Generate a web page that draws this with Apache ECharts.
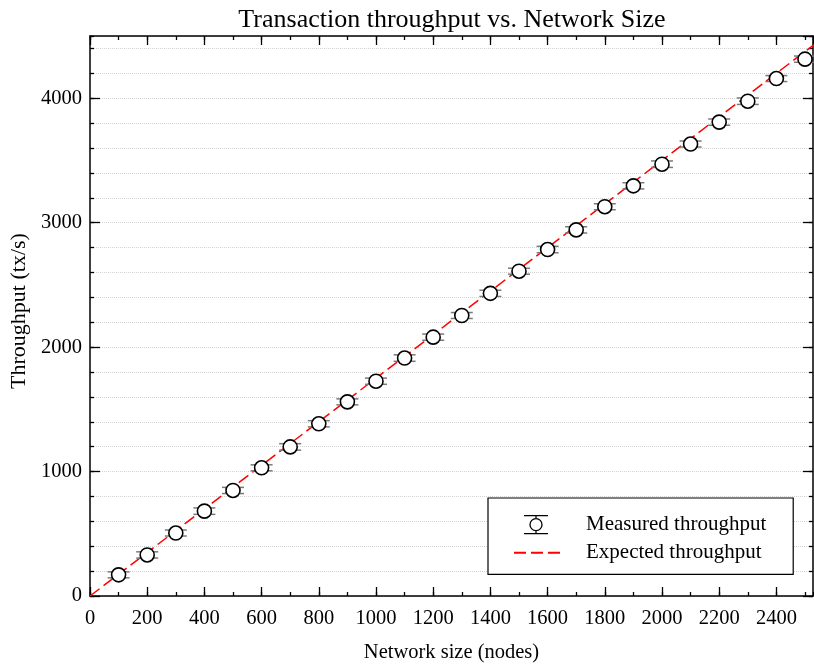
<!DOCTYPE html>
<html>
<head>
<meta charset="utf-8">
<title>Transaction throughput vs. Network Size</title>
<script src="https://cdn.jsdelivr.net/npm/echarts@6/dist/echarts.min.js"></script>
<style>
  html, body { margin: 0; padding: 0; background: #ffffff; }
  #chart { width: 814px; height: 668px; }
</style>
</head>
<body>
<div id="chart"></div>
<script>
// Network sizes (nodes) at which throughput was measured
const networkSizes = [100, 200, 300, 400, 500, 600, 700, 800, 900, 1000, 1100, 1200, 1300,
                      1400, 1500, 1600, 1700, 1800, 1900, 2000, 2100, 2200, 2300, 2400, 2500];
// Measured throughput (tx/s)
const measuredThroughput = [170, 330, 506, 682, 848, 1030, 1198, 1384, 1560, 1726, 1912, 2080, 2254,
                            2432, 2610, 2784, 2942, 3128, 3296, 3470, 3632, 3808, 3976, 4158, 4314];
// Half-width of the error bar around each measurement (tx/s)
const throughputError = [24, 25, 24, 26, 25, 24, 26, 25, 24, 25, 26, 25, 24,
                         25, 24, 26, 25, 24, 25, 26, 24, 25, 26, 24, 25];
// Expected (linear) throughput reference line
const expectedSizes = [0, 2600];
const expectedThroughput = [0, 4550];
// Tick labels
const xTickLabels = [0, 200, 400, 600, 800, 1000, 1200, 1400, 1600, 1800, 2000, 2200, 2400];
const yTickLabels = [0, 1000, 2000, 3000, 4000];

const FONT = "'Liberation Serif', 'Times New Roman', serif";
const X_MAX = 2528;
const Y_MAX = 4500;

const chart = echarts.init(document.getElementById('chart'), null, { renderer: 'canvas' });

function xAxisDef(position, interval, tickLen, withLabels, showLine) {
  return {
    type: 'value', position: position, min: 0, max: X_MAX, interval: interval,
    axisLine: { show: showLine, onZero: false, lineStyle: { color: '#000', width: 1.5 } },
    axisTick: { show: true, inside: true, length: tickLen, lineStyle: { color: '#000', width: 1.3 } },
    axisLabel: {
      show: withLabels, showMaxLabel: false, margin: 12,
      fontFamily: FONT, fontSize: 20.5, color: '#000',
      formatter: v => (xTickLabels.indexOf(v) >= 0 ? String(v) : '')
    },
    splitLine: { show: false },
    name: withLabels ? 'Network size (nodes)' : '',
    nameLocation: 'middle', nameGap: 46,
    nameTextStyle: { fontFamily: FONT, fontSize: 20.5, color: '#000' }
  };
}

function yAxisDef(position, interval, tickLen, withLabels, showLine, split) {
  return {
    type: 'value', position: position, min: 0, max: Y_MAX, interval: interval,
    axisLine: { show: showLine, onZero: false, lineStyle: { color: '#000', width: 1.5 } },
    axisTick: { show: true, inside: true, length: tickLen, lineStyle: { color: '#000', width: 1.3 } },
    axisLabel: {
      show: withLabels, showMaxLabel: false, margin: 8,
      fontFamily: FONT, fontSize: 20.5, color: '#000',
      formatter: v => (yTickLabels.indexOf(v) >= 0 ? String(v) : '')
    },
    splitLine: split,
    name: withLabels ? 'Throughput (tx/s)' : '',
    nameLocation: 'middle', nameGap: 53,
    nameTextStyle: { fontFamily: FONT, fontSize: 22, color: '#000', padding: [0, 0, 0, 10] }
  };
}

const option = {
  backgroundColor: '#ffffff',
  animation: false,
  title: {
    text: 'Transaction throughput vs. Network Size',
    left: 447, top: 2, textAlign: 'center',
    textStyle: { fontFamily: FONT, fontSize: 26, fontWeight: 'normal', color: '#000' }
  },
  grid: { left: 90, right: 1, top: 36, bottom: 69, containLabel: false },
  xAxis: [
    xAxisDef('bottom', 200, 9, true, true),
    xAxisDef('bottom', 100, 4, false, false),
    xAxisDef('top', 200, 9, false, true),
    xAxisDef('top', 100, 4, false, false)
  ],
  yAxis: [
    yAxisDef('left', 1000, 10, true, true,
      { show: true, lineStyle: { color: '#6a6a6a', width: 1, type: [1, 1] } }),
    yAxisDef('left', 200, 4, false, false,
      { show: true, lineStyle: { color: '#d2d2d2', width: 1, type: [1, 1] } }),
    yAxisDef('right', 1000, 10, false, true, { show: false }),
    yAxisDef('right', 200, 4, false, false, { show: false })
  ],
  legend: {
    orient: 'vertical', left: 488, top: 498,
    padding: [16, 27, 11, 25], itemGap: 7, itemWidth: 46, itemHeight: 20,
    borderColor: '#000', borderWidth: 1.2, borderRadius: 0, backgroundColor: '#ffffff',
    textStyle: { fontFamily: FONT, fontSize: 21, color: '#000', padding: [0, 0, 0, 21] },
    data: [
      {
        name: 'Measured throughput',
        icon: 'path://M0 0M46 20M10 1L34 1M10 19L34 19M22 1L22 4M22 16L22 19M28 10A6 6 0 1 1 16 10A6 6 0 1 1 28 10Z',
        itemStyle: { color: '#fff', borderColor: '#000', borderWidth: 1.3 }
      },
      {
        name: 'Expected throughput',
        itemStyle: { color: 'rgba(0,0,0,0)', borderColor: 'rgba(0,0,0,0)', borderWidth: 0 }
      }
    ],
    selectedMode: false
  },
  series: [
    {
      name: 'Expected throughput',
      type: 'line',
      xAxisIndex: 0, yAxisIndex: 0,
      data: expectedSizes.map((x, i) => [x, expectedThroughput[i]]),
      symbol: 'none', clip: true, z: 3,
      itemStyle: { color: 'rgba(0,0,0,0)' },
      lineStyle: { color: '#ff0000', width: 1.5, type: [12, 5] }
    },
    {
      name: 'Throughput error',
      type: 'custom',
      xAxisIndex: 0, yAxisIndex: 0, z: 4,
      data: networkSizes.map((x, i) => [x, measuredThroughput[i] - throughputError[i], measuredThroughput[i] + throughputError[i]]),
      encode: { x: 0, y: [1, 2] },
      renderItem: function (params, api) {
        const lo = api.coord([api.value(0), api.value(1)]);
        const hi = api.coord([api.value(0), api.value(2)]);
        const hw = 11;
        const style = { stroke: '#7a7a7a', lineWidth: 1.5, fill: null };
        return {
          type: 'group',
          children: [
            { type: 'line', shape: { x1: lo[0], y1: lo[1], x2: hi[0], y2: hi[1] }, style: style },
            { type: 'line', shape: { x1: lo[0] - hw, y1: lo[1], x2: lo[0] + hw, y2: lo[1] }, style: style },
            { type: 'line', shape: { x1: hi[0] - hw, y1: hi[1], x2: hi[0] + hw, y2: hi[1] }, style: style }
          ]
        };
      }
    },
    {
      name: 'Measured throughput',
      type: 'scatter',
      xAxisIndex: 0, yAxisIndex: 0, z: 5,
      data: networkSizes.map((x, i) => [x, measuredThroughput[i]]),
      symbol: 'circle', symbolSize: 14,
      itemStyle: { color: '#ffffff', borderColor: '#000000', borderWidth: 1.6, opacity: 1 }
    }
  ]
};

chart.setOption(option);
</script>
</body>
</html>
